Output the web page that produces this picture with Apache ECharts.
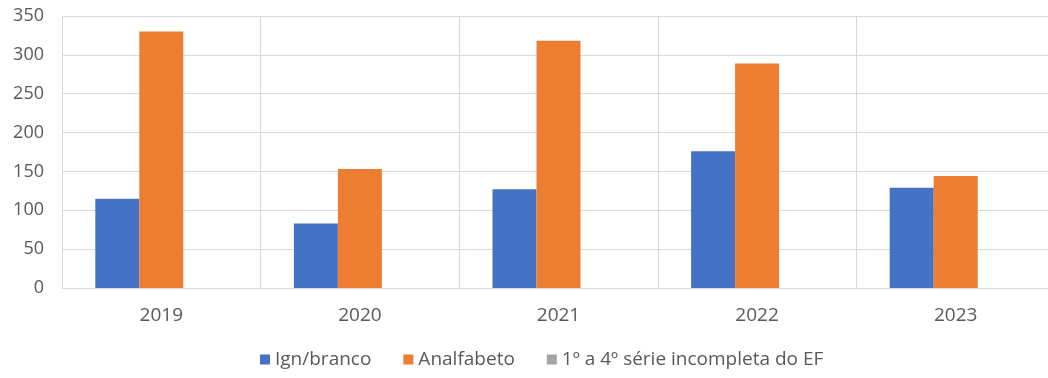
<!DOCTYPE html>
<html>
<head>
<meta charset="utf-8">
<script src="https://cdn.jsdelivr.net/npm/echarts@6/dist/echarts.min.js"></script>
<style>
  html, body { margin: 0; padding: 0; background: #ffffff; overflow: hidden; }
  /* the plot area runs a few pixels past the visible right edge */
  #chart { width: 1056px; height: 378px; }
</style>
</head>
<body>
<div id="chart"></div>
<script>
// Years on the category axis
const years = ['2019', '2020', '2021', '2022', '2023'];
// Counts per schooling level
const ignBranco = [115, 83, 127, 176, 129];
const analfabeto = [330, 153, 318, 289, 144];
const serieIncompleta = [0, 0, 0, 0, 0];
// Value axis ticks
const yTicks = [0, 50, 100, 150, 200, 250, 300, 350];

const seriesNames = ['Ign/branco', 'Analfabeto', '1º a 4º série incompleta do EF'];
const seriesColors = ['#4472c4', '#ed7d31', '#a5a5a5'];
const seriesData = [ignBranco, analfabeto, serieIncompleta];

const fontFamily = '"Open Sans", "Liberation Sans", sans-serif';
const textColor = '#595959';
const gridColor = '#d9d9d9';

const chart = echarts.init(document.getElementById('chart'), null, { renderer: 'canvas' });
chart.setOption({
  animation: false,
  backgroundColor: '#ffffff',
  grid: { left: 62, right: 1, top: 16, bottom: 90, containLabel: false },
  legend: {
    bottom: 4,
    left: 255,
    itemWidth: 10,
    itemHeight: 10,
    itemGap: 32,
    icon: 'rect',
    textStyle: { color: textColor, fontSize: 19, fontFamily: fontFamily },
    data: seriesNames
  },
  xAxis: {
    type: 'category',
    data: years,
    axisLine: { show: true, lineStyle: { color: gridColor, width: 1 } },
    axisTick: { show: false },
    splitLine: { show: true, lineStyle: { color: gridColor, width: 1 } },
    axisLabel: { color: textColor, fontSize: 19, fontFamily: fontFamily, margin: 18 }
  },
  yAxis: {
    type: 'value',
    min: yTicks[0],
    max: yTicks[yTicks.length - 1],
    interval: yTicks[1] - yTicks[0],
    axisLine: { show: false },
    axisTick: { show: false },
    splitLine: { show: true, lineStyle: { color: gridColor, width: 1 } },
    axisLabel: { color: textColor, fontSize: 18, fontFamily: fontFamily, margin: 18 }
  },
  series: seriesNames.map((name, i) => ({
    name: name,
    type: 'bar',
    data: seriesData[i],
    barWidth: 44,
    barGap: '0%',
    itemStyle: { color: seriesColors[i] }
  }))
});
</script>
</body>
</html>
